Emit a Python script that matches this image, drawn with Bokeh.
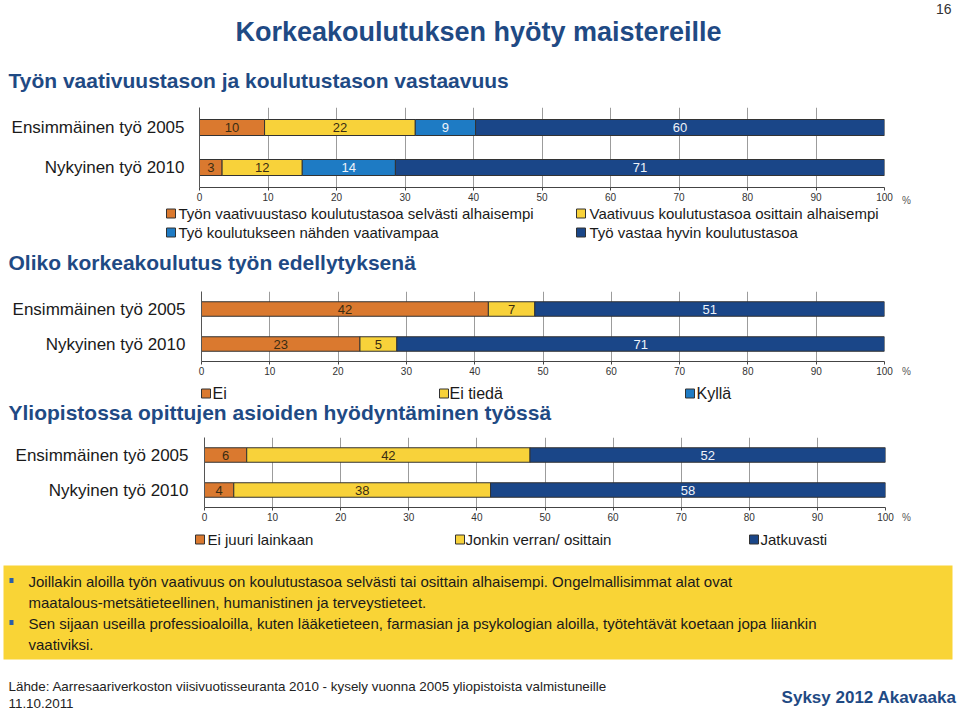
from bokeh.plotting import figure
from bokeh.models import Range1d, FixedTicker, ColumnDataSource
from bokeh.layouts import column, row
from bokeh.core.properties import value
from bokeh.embed import file_html
from bokeh.resources import INLINE

# ---------------- data ----------------
rows = ["Ensimmäinen työ 2005", "Nykyinen työ 2010"]

c1_series = ["Työn vaativuustaso koulutustasoa selvästi alhaisempi",
             "Vaativuus koulutustasoa osittain alhaisempi",
             "Työ koulutukseen nähden vaativampaa",
             "Työ vastaa hyvin koulutustasoa"]
c1_selvasti_alhaisempi = [9.5, 3.3]
c1_osittain_alhaisempi = [22.0, 11.7]
c1_vaativampaa = [8.8, 13.6]
c1_vastaa = [59.7, 71.4]

c2_series = ["Ei", "Ei tiedä", "Kyllä"]
c2_ei = [42.0, 23.2]
c2_ei_tieda = [6.8, 5.4]
c2_kylla = [51.2, 71.4]

c3_series = ["Ei juuri lainkaan", "Jonkin verran/ osittain", "Jatkuvasti"]
c3_ei_juuri = [6.2, 4.3]
c3_jonkin_verran = [41.6, 37.7]
c3_jatkuvasti = [52.2, 58.0]

x_ticks = [0, 10, 20, 30, 40, 50, 60, 70, 80, 90, 100]
unit_text = "%"

title_text = "Korkeakoulutuksen hyöty maistereille"
page_no = "16"
section_titles = ["Työn vaativuustason ja koulutustason vastaavuus",
                  "Oliko korkeakoulutus työn edellytyksenä",
                  "Yliopistossa opittujen asioiden hyödyntäminen työssä"]
box_lines = ["Joillakin aloilla työn vaativuus on koulutustasoa selvästi tai osittain alhaisempi. Ongelmallisimmat alat ovat",
             "maatalous-metsätieteellinen, humanistinen ja terveystieteet.",
             "Sen sijaan useilla professioaloilla, kuten lääketieteen, farmasian ja psykologian aloilla, työtehtävät koetaan jopa liiankin",
             "vaativiksi."]
source_text = "Lähde: Aarresaariverkoston viisivuotisseuranta 2010 -  kysely vuonna 2005 yliopistoista valmistuneille"
date_text = "11.10.2011"
brand_text = "Syksy 2012 Akavaaka"

# ---------------- style ----------------
FONT = "Liberation Sans"
W = 960
CW = 895          # width of the chart figures; the rest holds the "%" sign
ORANGE = "#DA792F"
YELLOW = "#F8D23A"
LBLUE = "#1E7BC4"
NAVY = "#1A4688"
TBLUE = "#1F4A84"
BOXY = "#F9D436"
DARK_T = "#3a2c12"
LIGHT_T = "#EEF3FA"


def canvas(top, bottom, left=0, right=W):
    p = figure(width=right - left, height=bottom - top, x_range=Range1d(left, right),
               y_range=Range1d(bottom, top), output_backend="svg",
               toolbar_location=None, x_axis_location=None, y_axis_location=None,
               min_border=0, frame_align=False)
    p.grid.visible = False
    p.outline_line_color = None
    return p


def txt(p, x, y, s, size, color="#1a1a1a", bold=False, align="left"):
    p.text(x=[x], y=[y], text=[s], text_font=value(FONT),
           text_font_size=size, text_color=color,
           text_font_style="bold" if bold else "normal",
           text_align=align, text_baseline="middle")


def legend_item(p, sq_left, tx, y, label, color, size="15px"):
    p.rect(x=[sq_left + 4.5], y=[y], width=9, height=9, fill_color=color,
           line_color="#333333", line_width=1)
    txt(p, tx, y, label, size)


def chart(series, colors, tcolors, x0, x100, top, bottom, fig_bottom, bar_px, standoff, pct_y):
    unit = (bottom - top) / len(rows)
    p = figure(width=CW, height=fig_bottom - top, x_range=Range1d(0, 100),
               y_range=Range1d(len(rows) - 0.5, -0.5), output_backend="svg",
               toolbar_location=None, min_border_left=x0,
               min_border_right=CW - x100, min_border_top=0,
               min_border_bottom=fig_bottom - bottom, frame_align=False)
    p.outline_line_color = None
    p.ygrid.visible = False
    p.xgrid.ticker = FixedTicker(ticks=x_ticks)
    p.xgrid.grid_line_color = "#9c9c9c"
    p.xgrid.grid_line_width = 1

    p.xaxis.ticker = FixedTicker(ticks=x_ticks)
    p.xaxis.axis_line_color = "#444444"
    p.xaxis.major_tick_line_color = "#444444"
    p.xaxis.major_tick_out = 3
    p.xaxis.major_tick_in = 0
    p.xaxis.minor_tick_line_color = None
    p.xaxis.major_label_standoff = 2
    p.xaxis.major_label_text_font = FONT
    p.xaxis.major_label_text_font_size = "10px"
    p.xaxis.major_label_text_color = "#333333"

    p.yaxis.ticker = FixedTicker(ticks=list(range(len(rows))))
    p.yaxis.major_label_overrides = {i: r for i, r in enumerate(rows)}
    p.yaxis.axis_line_color = "#555555"
    p.yaxis.major_tick_line_color = None
    p.yaxis.major_tick_out = 0
    p.yaxis.major_tick_in = 0
    p.yaxis.minor_tick_line_color = None
    p.yaxis.major_label_standoff = standoff
    p.yaxis.major_label_text_font = FONT
    p.yaxis.major_label_text_font_size = "17px"
    p.yaxis.major_label_text_color = "#1a1a1a"

    data = dict(y=[], left=[], right=[], color=[], mid=[], label=[], tcolor=[])
    for i in range(len(rows)):
        acc = 0.0
        for vals, col, tc in zip(series, colors, tcolors):
            v = vals[i]
            data["y"].append(i)
            data["left"].append(acc)
            data["right"].append(acc + v)
            data["color"].append(col)
            data["mid"].append(acc + v / 2)
            data["label"].append(str(round(v)))
            data["tcolor"].append(tc)
            acc += v
    src = ColumnDataSource(data)
    p.hbar(y="y", left="left", right="right", height=bar_px / unit,
           fill_color="color", line_color="#333333", line_width=1, source=src)
    p.text(x="mid", y="y", text="label", text_align="center",
           text_baseline="middle", text_color="tcolor", text_font=value(FONT),
           text_font_size="13px", source=src)

    side = canvas(top, fig_bottom, CW, W)
    txt(side, 906, pct_y, unit_text, "10px", "#555555", align="center")
    return row(p, side, spacing=0)


# ---------------- header ----------------
head = canvas(0, 107)
txt(head, 478, 31, title_text, "27px", TBLUE, bold=True, align="center")
txt(head, 951, 8, page_no, "14px", "#333333", align="right")
txt(head, 8, 80, section_titles[0], "21px", TBLUE, bold=True)

# ---------------- chart 1 ----------------
c1 = chart([c1_selvasti_alhaisempi, c1_osittain_alhaisempi, c1_vaativampaa, c1_vastaa],
           [ORANGE, YELLOW, LBLUE, NAVY], [DARK_T, DARK_T, LIGHT_T, LIGHT_T],
           199, 884, 107, 187, 206, 16, 15, 200)

l1 = canvas(206, 291)
legend_item(l1, 166, 178, 213, c1_series[0], ORANGE)
legend_item(l1, 576, 589, 213, c1_series[1], YELLOW)
legend_item(l1, 166, 178, 232, c1_series[2], LBLUE)
legend_item(l1, 576, 589, 232, c1_series[3], NAVY)
txt(l1, 8, 262, section_titles[1], "21px", TBLUE, bold=True)

# ---------------- chart 2 ----------------
c2 = chart([c2_ei, c2_ei_tieda, c2_kylla], [ORANGE, YELLOW, NAVY],
           [DARK_T, DARK_T, LIGHT_T], 201, 884, 291, 361, 380, 14.5, 16, 371)

l2 = canvas(380, 437)
legend_item(l2, 201, 212, 393, c2_series[0], ORANGE, "16px")
legend_item(l2, 439, 449, 393, c2_series[1], YELLOW, "16px")
legend_item(l2, 685, 696, 393, c2_series[2], LBLUE, "16px")
txt(l2, 8, 412, section_titles[2], "21px", TBLUE, bold=True)

# ---------------- chart 3 ----------------
c3 = chart([c3_ei_juuri, c3_jonkin_verran, c3_jatkuvasti], [ORANGE, YELLOW, NAVY],
           [DARK_T, DARK_T, LIGHT_T], 204, 885, 437, 507, 526, 14.5, 16, 517)

bot = canvas(526, 711)
legend_item(bot, 195, 207, 539, c3_series[0], ORANGE)
legend_item(bot, 455, 465, 539, c3_series[1], YELLOW)
legend_item(bot, 749, 760, 539, c3_series[2], NAVY)
bot.quad(left=[3], right=[952], top=[565], bottom=[659], fill_color=BOXY, line_color=None)
bot.rect(x=[11, 11], y=[580, 622], width=4, height=5, fill_color="#2A5FA8", line_color=None)
for yy, line in zip([581, 602, 623, 644], box_lines):
    txt(bot, 28, yy, line, "15px", "#1a1a1a")
txt(bot, 8, 686, source_text, "13.4px", "#222222")
txt(bot, 8, 703, date_text, "13.4px", "#222222")
txt(bot, 956, 697, brand_text, "17px", TBLUE, bold=True, align="right")

layout = column(head, c1, l1, c2, l2, c3, bot, spacing=0)

open("out.html", "w").write(file_html(layout, INLINE))
